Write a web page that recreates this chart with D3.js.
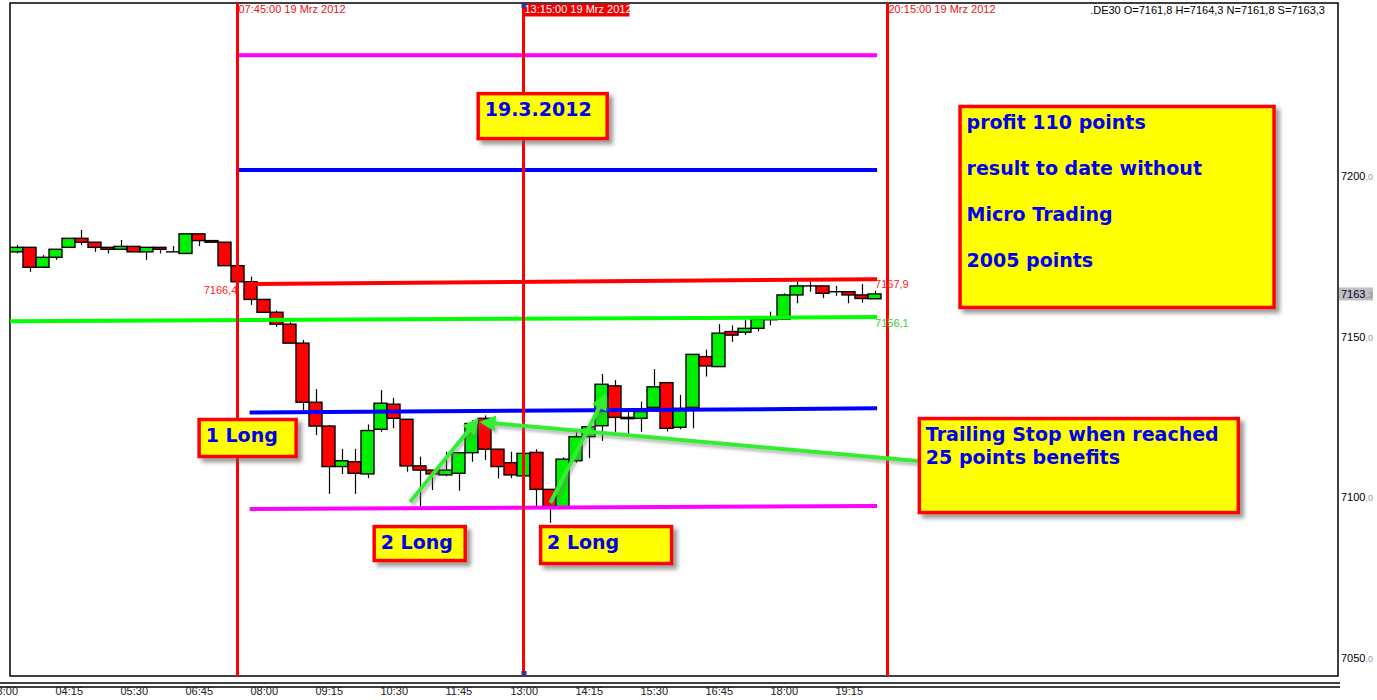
<!DOCTYPE html>
<html>
<head>
<meta charset="utf-8">
<script src="https://cdn.jsdelivr.net/npm/d3@7"></script>
<style>
  body { margin: 0; background: #fff; }
  svg { display: block; font-family: "Liberation Sans", Arial, sans-serif; }
</style>
</head>
<body>
<svg id="chart" width="1377" height="700"></svg>
<script>
// --- Data -------------------------------------------------------------
// 15 minute candles, DE30, 19 Mrz 2012, first candle at 03:30
const firstCandle = "03:30";
const candleMinutes = 15;

const opens = [7176.4, 7177.8, 7171.6, 7174.7, 7177.8, 7180.6, 7179.4, 7177.8, 7177.2, 7178.1,
  7176.4, 7177.8, 7176.4, 7175.9, 7182.0, 7179.9, 7179.4, 7172.1, 7167.1, 7161.6,
  7157.6, 7153.9, 7148.0, 7129.6, 7122.2, 7109.6, 7111.1, 7107.3, 7121.2, 7129.0,
  7124.3, 7109.8, 7108.5, 7107.0, 7107.5, 7113.9, 7124.6, 7115.0, 7110.8, 7106.7,
  7114.0, 7102.5, 7097.1, 7111.4, 7118.9, 7122.3, 7134.7, 7124.9, 7124.6, 7128.0,
  7135.7, 7121.8, 7128.0, 7143.8, 7140.7, 7151.6, 7151.4, 7152.6, 7155.4, 7155.4,
  7163.0, 7165.8, 7165.8, 7164.0, 7164.0, 7163.0, 7161.8];
const highs = [7178.5, 7177.8, 7175.4, 7177.2, 7180.6, 7183.2, 7179.4, 7177.8, 7180.1, 7178.1,
  7177.8, 7177.8, 7178.2, 7182.0, 7182.0, 7179.9, 7179.4, 7172.1, 7168.7, 7161.6,
  7158.1, 7154.5, 7149.0, 7133.7, 7122.5, 7115.1, 7115.1, 7122.7, 7133.4, 7131.0,
  7124.3, 7112.7, 7108.5, 7114.2, 7113.9, 7124.0, 7125.5, 7115.0, 7114.2, 7114.2,
  7115.0, 7102.5, 7112.5, 7120.5, 7122.0, 7138.4, 7136.5, 7127.7, 7129.8, 7139.9,
  7135.7, 7131.9, 7144.5, 7146.0, 7153.9, 7153.5, 7155.2, 7155.4, 7157.8, 7163.5,
  7167.1, 7167.1, 7165.8, 7165.8, 7164.0, 7166.4, 7164.3];
const lows = [7175.9, 7170.2, 7171.6, 7173.9, 7177.8, 7178.5, 7176.4, 7175.9, 7177.2, 7176.4,
  7173.9, 7175.9, 7176.4, 7175.9, 7178.2, 7179.2, 7172.1, 7167.1, 7159.9, 7157.6,
  7153.1, 7148.0, 7127.2, 7119.4, 7101.1, 7107.3, 7101.1, 7106.0, 7120.4, 7121.5,
  7108.0, 7097.1, 7102.3, 7106.6, 7102.1, 7111.1, 7111.6, 7105.9, 7106.0, 7106.7,
  7097.1, 7092.1, 7097.1, 7110.8, 7112.2, 7117.6, 7120.4, 7119.7, 7120.4, 7128.0,
  7120.5, 7121.2, 7121.5, 7137.6, 7140.7, 7148.4, 7150.5, 7151.6, 7153.6, 7155.4,
  7160.4, 7164.0, 7162.0, 7162.7, 7160.4, 7160.6, 7161.8];
const closes = [7177.8, 7171.6, 7174.7, 7177.2, 7180.6, 7179.4, 7177.8, 7177.2, 7178.1, 7176.4,
  7177.8, 7177.2, 7176.4, 7182.0, 7179.9, 7179.4, 7172.1, 7167.1, 7161.6, 7157.6,
  7153.9, 7148.0, 7129.6, 7122.2, 7109.6, 7111.4, 7107.5, 7120.8, 7129.3, 7124.6,
  7109.8, 7108.5, 7107.3, 7108.5, 7113.9, 7123.0, 7115.0, 7109.6, 7107.0, 7113.7,
  7102.5, 7097.3, 7111.9, 7118.9, 7122.0, 7135.2, 7124.9, 7124.5, 7126.7, 7134.4,
  7121.5, 7127.7, 7144.5, 7140.9, 7151.1, 7150.5, 7152.6, 7155.4, 7155.6, 7163.0,
  7165.8, 7165.8, 7163.5, 7164.0, 7163.0, 7161.9, 7163.3];

const timeTicks = ["03:00", "04:15", "05:30", "06:45", "08:00", "09:15", "10:30", "11:45",
  "13:00", "14:15", "15:30", "16:45", "18:00", "19:15"];
const priceTicks = [7200, 7150, 7100, 7050];
const lastPrice = 7163.3;
const header = ".DE30 O=7161,8 H=7164,3 N=7161,8 S=7163,3";

// vertical session markers
const markerTimes = ["07:45", "13:15", "20:15"];
const markerLabels = ["07:45:00 19 Mrz 2012", "13:15:00 19 Mrz 2012", "20:15:00 19 Mrz 2012"];

// drawn levels: start time, start price, end time, end price
const levelColors = ["#ff00ff", "#0000ff", "#ff0000", "#00ff00", "#0000ff", "#ff00ff"];
const levelStart = [["07:44", 7237.6], ["07:44", 7201.9], ["07:54", 7166.4], ["03:15", 7154.8], ["07:59", 7126.4], ["07:59", 7096.4]];
const levelEnd = [["20:03", 7237.6], ["20:03", 7201.9], ["20:03", 7167.9], ["20:03", 7156.1], ["20:03", 7127.7], ["20:03", 7097.3]];

// green arrows (from -> to)
const arrowFrom = [["11:04", 7098.6], ["20:50", 7111.3], ["13:46", 7098.3]];
const arrowTo = [["12:21", 7123.9], ["12:28", 7123.4], ["14:49", 7131.5]];

// text boxes anchored at their top left corner
const boxAnchors = [["12:21", 7226.1], ["21:37", 7222.1], ["06:59", 7124.7], ["10:21", 7091.4], ["13:33", 7091.4], ["20:50", 7125.0]];
const boxTexts = [["19.3.2012"],
  ["profit 110 points", "result to date without", "Micro Trading", "2005 points"],
  ["1 Long"], ["2 Long"], ["2 Long"],
  ["Trailing Stop when reached", "25 points benefits"]];

// --- Helpers -----------------------------------------------------------
function toMin(s) {
  return +s.slice(0, 2) * 60 + +s.slice(3, 5);
}

const svg = d3.select("#chart");
const plot = {left: 10, right: 1338, top: 3, bottom: 676};

const x = d3.scaleLinear()
  .domain([toMin("03:30"), toMin("20:15")])
  .range([16.5, 887.5]);

const y = d3.scaleLinear()
  .domain([7050, 7200])
  .range([658.1, 176]);

const candles = opens.map((o, i) => ({
  t: toMin(firstCandle) + i * candleMinutes,
  o: o, h: highs[i], l: lows[i], c: closes[i]
}));
const cw = x(candleMinutes) - x(0);

// defs: clip + shadows + arrow head
const defs = svg.append("defs");
defs.append("clipPath").attr("id", "plotClip")
  .append("rect")
  .attr("x", plot.left).attr("y", plot.top)
  .attr("width", plot.right - plot.left).attr("height", plot.bottom - plot.top);

const shadow = defs.append("filter").attr("id", "shadow")
  .attr("x", "-10%").attr("y", "-10%").attr("width", "130%").attr("height", "140%");
shadow.append("feDropShadow")
  .attr("dx", 4).attr("dy", 4).attr("stdDeviation", 2)
  .attr("flood-color", "#555").attr("flood-opacity", 0.6);

const lineShadow = defs.append("filter").attr("id", "lineShadow")
  .attr("x", "-20%").attr("y", "-20%").attr("width", "140%").attr("height", "140%");
lineShadow.append("feDropShadow")
  .attr("dx", 2).attr("dy", 3).attr("stdDeviation", 1.5)
  .attr("flood-color", "#777").attr("flood-opacity", 0.5);

defs.append("marker")
  .attr("id", "head")
  .attr("viewBox", "0 0 10 10")
  .attr("refX", 8).attr("refY", 5)
  .attr("markerWidth", 4).attr("markerHeight", 4)
  .attr("orient", "auto")
  .append("path")
  .attr("d", "M0,0 L10,5 L0,10 z")
  .attr("fill", "#33ee33");

// --- Frame -------------------------------------------------------------
svg.append("rect")
  .attr("x", plot.left).attr("y", plot.top)
  .attr("width", plot.right - plot.left).attr("height", plot.bottom - plot.top)
  .attr("fill", "#fff").attr("stroke", "#000").attr("stroke-width", 1.5);

// double line above the time labels
[683, 687].forEach(yy => {
  svg.append("line")
    .attr("x1", 0).attr("x2", plot.right + 2)
    .attr("y1", yy).attr("y2", yy)
    .attr("stroke", "#000").attr("stroke-width", 1.5);
});

const g = svg.append("g").attr("clip-path", "url(#plotClip)");

// --- Candles -----------------------------------------------------------
const cg = g.append("g").attr("class", "candles");

cg.selectAll("line.wick")
  .data(candles)
  .join("line")
  .attr("class", "wick")
  .attr("x1", d => Math.round(x(d.t)) + 0.5)
  .attr("x2", d => Math.round(x(d.t)) + 0.5)
  .attr("y1", d => y(d.h))
  .attr("y2", d => y(d.l))
  .attr("stroke", "#000").attr("stroke-width", 1.2);

cg.selectAll("rect.body")
  .data(candles.filter(d => d.o !== d.c))
  .join("rect")
  .attr("class", "body")
  .attr("x", d => x(d.t) - cw / 2)
  .attr("width", cw)
  .attr("y", d => y(Math.max(d.o, d.c)))
  .attr("height", d => Math.max(1, Math.abs(y(d.o) - y(d.c))))
  .attr("fill", d => d.c > d.o ? "#00ee00" : "#ff0000")
  .attr("stroke", "#000").attr("stroke-width", 1.4);

cg.selectAll("line.doji")
  .data(candles.filter(d => d.o === d.c))
  .join("line")
  .attr("class", "doji")
  .attr("x1", d => x(d.t) - cw / 2)
  .attr("x2", d => x(d.t) + cw / 2)
  .attr("y1", d => y(d.o))
  .attr("y2", d => y(d.o))
  .attr("stroke", "#000").attr("stroke-width", 1.4);

// --- Levels ------------------------------------------------------------
const levels = levelColors.map((c, i) => ({
  color: c, a: levelStart[i], b: levelEnd[i]
}));

g.selectAll("line.level")
  .data(levels)
  .join("line")
  .attr("class", "level")
  .attr("x1", d => x(toMin(d.a[0])))
  .attr("y1", d => y(d.a[1]))
  .attr("x2", d => x(toMin(d.b[0])))
  .attr("y2", d => y(d.b[1]))
  .attr("stroke", d => d.color)
  .attr("stroke-width", 4);

// level price labels
const fmt = v => v.toFixed(1).replace(".", ",");
svg.append("text")
  .attr("x", x(toMin(levelStart[2][0])) - 8)
  .attr("y", y(levelStart[2][1]) + 10)
  .attr("text-anchor", "end")
  .attr("font-size", 11).attr("fill", "#ff2020")
  .text(fmt(levelStart[2][1]));
svg.append("text")
  .attr("x", x(toMin(levelEnd[2][0])) - 2)
  .attr("y", y(levelEnd[2][1]) + 9)
  .attr("font-size", 11).attr("fill", "#ff2020")
  .text(fmt(levelEnd[2][1]));
svg.append("text")
  .attr("x", x(toMin(levelEnd[3][0])) - 2)
  .attr("y", y(levelEnd[3][1]) + 10)
  .attr("font-size", 11).attr("fill", "#33cc33")
  .text(fmt(levelEnd[3][1]));

// --- Session markers ---------------------------------------------------
markerTimes.forEach((t, i) => {
  const xx = x(toMin(t));
  g.append("line")
    .attr("x1", xx).attr("x2", xx)
    .attr("y1", plot.top).attr("y2", plot.bottom)
    .attr("stroke", "#ff0000").attr("stroke-width", 3);
  const active = i === 1;
  if (active) {
    svg.append("rect")
      .attr("x", xx).attr("y", plot.top + 0.5)
      .attr("width", 106).attr("height", 13)
      .attr("fill", "#ee0000");
    [plot.top, plot.bottom - 5].forEach(yy => {
      svg.append("rect")
        .attr("x", xx - 2).attr("y", yy)
        .attr("width", 5).attr("height", 5)
        .attr("fill", "#333399");
    });
  }
  svg.append("text")
    .attr("x", xx + 1).attr("y", 13)
    .attr("font-size", 11)
    .attr("fill", active ? "#fff" : "#ee1111")
    .text(markerLabels[i]);
});

// --- Axes --------------------------------------------------------------
svg.selectAll("text.tick-x")
  .data(timeTicks)
  .join("text")
  .attr("class", "tick-x")
  .attr("x", d => x(toMin(d)))
  .attr("y", 695)
  .attr("font-size", 11)
  .attr("fill", "#222")
  .text(d => d);

const yTicks = svg.selectAll("text.tick-y")
  .data(priceTicks)
  .join("text")
  .attr("class", "tick-y")
  .attr("x", plot.right + 3)
  .attr("y", d => y(d) + 4)
  .attr("font-size", 11)
  .attr("fill", "#000");
yTicks.append("tspan").text(d => d);
yTicks.append("tspan").attr("fill", "#999").attr("font-size", 9).text(",0");

svg.append("rect")
  .attr("x", plot.right + 1).attr("y", y(lastPrice) - 6.5)
  .attr("width", 34).attr("height", 13)
  .attr("fill", "#c0c0c0");
const lastLabel = svg.append("text")
  .attr("x", plot.right + 3).attr("y", y(lastPrice) + 4)
  .attr("font-size", 11).attr("fill", "#000033");
lastLabel.append("tspan").text(Math.floor(lastPrice));
lastLabel.append("tspan").attr("fill", "#888").attr("font-size", 9)
  .text("," + fmt(lastPrice).split(",")[1]);

svg.append("text")
  .attr("x", 1325).attr("y", 14)
  .attr("text-anchor", "end")
  .attr("font-size", 11).attr("fill", "#000")
  .text(header);

// --- Arrows ------------------------------------------------------------
const arrows = arrowFrom.map((a, i) => ({a: a, b: arrowTo[i]}));
svg.append("g")
  .attr("filter", "url(#lineShadow)")
  .selectAll("line")
  .data(arrows)
  .join("line")
  .attr("x1", d => x(toMin(d.a[0])))
  .attr("y1", d => y(d.a[1]))
  .attr("x2", d => x(toMin(d.b[0])))
  .attr("y2", d => y(d.b[1]))
  .attr("stroke", "#33ee33")
  .attr("stroke-width", 4)
  .attr("marker-end", "url(#head)");

// --- Text boxes ----------------------------------------------------------
const boxSizes = [[132, 48], [317, 204], [100, 40], [94, 37], [134, 40], [322, 97]];
const boxLineGap = [0, 46, 0, 0, 0, 23];

boxAnchors.forEach((a, i) => {
  const bx = x(toMin(a[0])), by = y(a[1]);
  const [w, h] = boxSizes[i];
  const bg = svg.append("g").attr("transform", `translate(${bx},${by})`);
  bg.append("rect")
    .attr("x", 1.5).attr("y", 1.5)
    .attr("width", w - 3).attr("height", h - 3)
    .attr("fill", "#ffff00")
    .attr("stroke", "#ff0000").attr("stroke-width", 3.5)
    .attr("filter", "url(#shadow)");
  bg.selectAll("text")
    .data(boxTexts[i])
    .join("text")
    .attr("x", 8)
    .attr("y", (d, j) => 24 + j * boxLineGap[i])
    .attr("font-family", "'DejaVu Sans', Verdana, sans-serif")
    .attr("font-weight", "bold")
    .attr("font-size", 19)
    .attr("fill", "#0000ee")
    .text(d => d);
});
</script>
</body>
</html>
